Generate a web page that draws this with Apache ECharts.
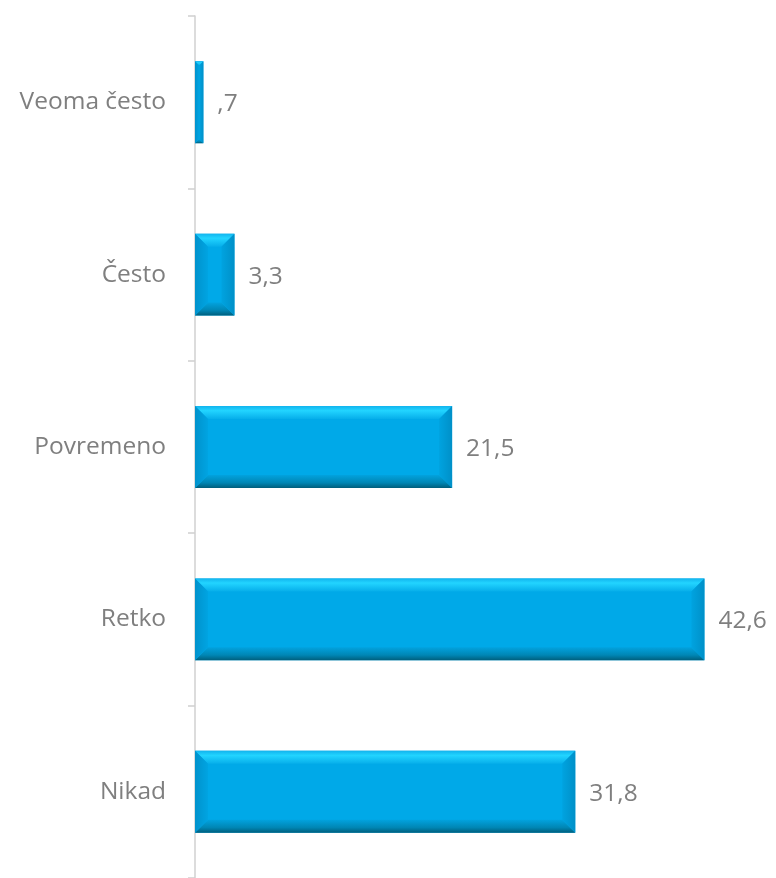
<!DOCTYPE html>
<html>
<head>
<meta charset="utf-8">
<script src="https://cdn.jsdelivr.net/npm/echarts@6/dist/echarts.min.js"></script>
<style>
  html, body { margin: 0; padding: 0; background: #ffffff; }
  #chart { width: 776px; height: 878px; }
</style>
</head>
<body>
<div id="chart"></div>
<script>
// Response categories, top to bottom
const categories = ['Veoma često', 'Često', 'Povremeno', 'Retko', 'Nikad'];
// Percentages for each category
const values = [0.7, 3.3, 21.5, 42.6, 31.8];

const TEXT_GREY = '#7f7f7f';
const FONT = '"Open Sans", sans-serif';
const FONT_SIZE = 24.5;

// Local number format: comma decimal, no leading zero below 1
function fmt(v) {
  let s = v.toFixed(1).replace('.', ',');
  if (s.startsWith('0,')) s = s.slice(1);
  return s;
}

// Bevelled bar: flat face plus four shaded edge facets
function renderBar(params, api) {
  const cat = api.value(0);
  const val = api.value(1);
  const start = api.coord([0, cat]);
  const end = api.coord([val, cat]);
  const band = api.size([0, 1])[1];
  const h = band * 0.475;
  const x0 = start[0], x1 = end[0];
  const y0 = start[1] - h / 2, y1 = start[1] + h / 2;
  const w = x1 - x0;
  const b = Math.min(13, w / 2, h / 2);

  const ix0 = x0 + b, ix1 = x1 - b, iy0 = y0 + b, iy1 = y1 - b;
  const lg = (a, c, d, e, stops) => new echarts.graphic.LinearGradient(a, c, d, e, stops);

  const children = [
    { type: 'rect', shape: { x: x0, y: y0, width: w, height: h }, style: { fill: '#00a9e8' } },
    // top facet
    { type: 'polygon', shape: { points: [[x0, y0], [x1, y0], [ix1, iy0], [ix0, iy0]] },
      style: { fill: lg(0, 0, 0, 1, [
        { offset: 0, color: '#12b4ee' }, { offset: 0.35, color: '#22d4ff' }, { offset: 1, color: '#06aeea' }]) } },
    // bottom facet
    { type: 'polygon', shape: { points: [[x0, y1], [x1, y1], [ix1, iy1], [ix0, iy1]] },
      style: { fill: lg(0, 0, 0, 1, [
        { offset: 0, color: '#02a2de' }, { offset: 0.6, color: '#0086b4' }, { offset: 1, color: '#005e7c' }]) } },
    // left facet
    { type: 'polygon', shape: { points: [[x0, y0], [ix0, iy0], [ix0, iy1], [x0, y1]] },
      style: { fill: lg(0, 0, 1, 0, [
        { offset: 0, color: '#0092cc' }, { offset: 1, color: '#00a4e2' }]) } },
    // right facet
    { type: 'polygon', shape: { points: [[x1, y0], [ix1, iy0], [ix1, iy1], [x1, y1]] },
      style: { fill: lg(1, 0, 0, 0, [
        { offset: 0, color: '#0090c8' }, { offset: 1, color: '#00a3e0' }]) } },
    // value label
    { type: 'text', x: x1 + 14, y: start[1] + 2,
      style: { text: fmt(val), fill: TEXT_GREY, font: FONT_SIZE + 'px ' + FONT,
               textAlign: 'left', textVerticalAlign: 'middle' } }
  ];
  return { type: 'group', children };
}

const chart = echarts.init(document.getElementById('chart'), null, { renderer: 'canvas' });
chart.setOption({
  animation: false,
  grid: { left: 195, right: 7, top: 16, bottom: -5, containLabel: false },
  xAxis: {
    type: 'value', min: 0, max: 48, show: false
  },
  yAxis: {
    type: 'category',
    data: categories,
    inverse: true,
    axisLine: { show: true, lineStyle: { color: '#d0d0d0', width: 1.5 } },
    axisTick: { show: true, length: 7, lineStyle: { color: '#d0d0d0', width: 1.5 } },
    axisLabel: { color: TEXT_GREY, fontSize: FONT_SIZE, fontFamily: FONT, margin: 29,
                 padding: [4, 0, 0, 0] },
    splitLine: { show: false }
  },
  series: [{
    type: 'custom',
    renderItem: renderBar,
    encode: { x: 1, y: 0 },
    data: values.map((v, i) => [i, v])
  }]
});
</script>
</body>
</html>
